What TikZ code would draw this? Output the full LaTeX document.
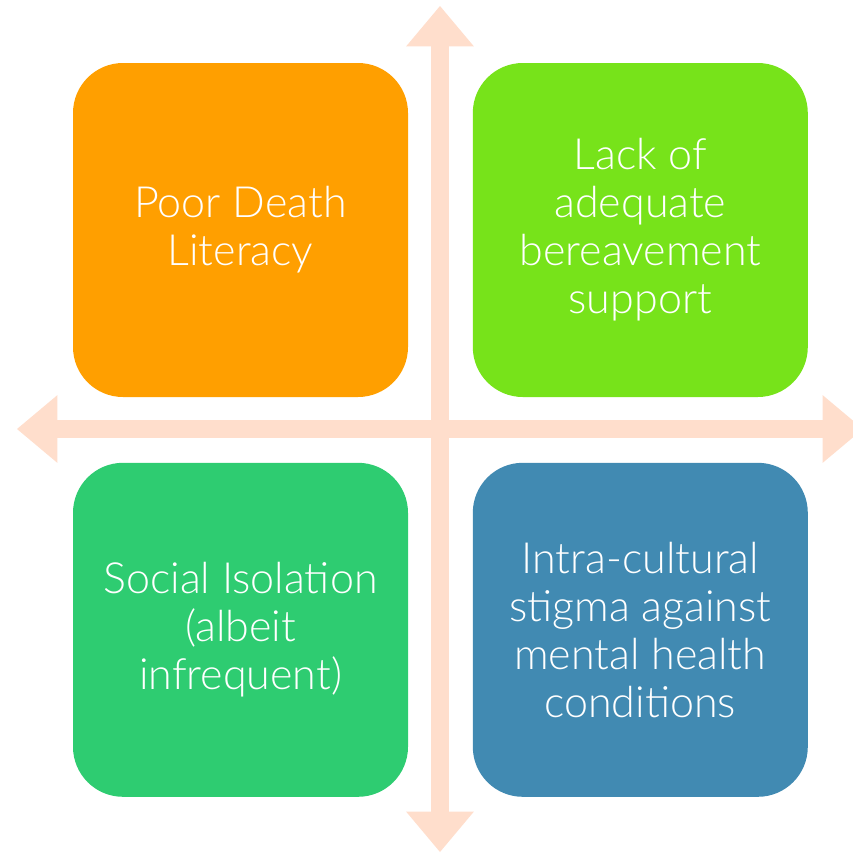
\documentclass[tikz,border=0pt]{standalone}
\usepackage{fontspec}
\setmainfont{Lato Light}
\usetikzlibrary{positioning,shapes.arrows}
\definecolor{axispeach}{RGB}{255,222,204}
\definecolor{deathorange}{RGB}{255,159,0}
\definecolor{supportgreen}{RGB}{119,227,26}
\definecolor{isolationgreen}{RGB}{46,204,113}
\definecolor{stigmablue}{RGB}{65,138,178}
\begin{document}
\begin{tikzpicture}[x=0.5pt,y=-0.5pt]
	\tikzstyle{quad box}=[rounded corners=25pt,minimum width=167.5pt,minimum height=167pt,inner sep=0pt,text=white,align=center,font=\fontsize{21.5}{24}\selectfont]
	\tikzstyle{axis arrow}=[double arrow,fill=axispeach,minimum height=423pt,minimum width=33.5pt,double arrow head extend=12.5pt,double arrow tip angle=80,inner xsep=0pt,inner ysep=4.25pt]
	\useasboundingbox(0,0)rectangle(853,853);
	\clip(0,0)rectangle(853,853);
	% axes
	\node(horizontal)[axis arrow]at(440,429){};
	\node(vertical)[axis arrow,rotate=90]at(440,429){};
	% quadrants
	\node(literacy)[quad box,fill=deathorange]at(240.5,230){Poor Death\\Literacy};
	\node(support)[quad box,fill=supportgreen,right=32pt of literacy]{Lack of\\adequate\\bereavement\\support};
	\node(isolation)[quad box,fill=isolationgreen,below=32.5pt of literacy]{Social Isolation\\(albeit\\infrequent)};
	\node(stigma)[quad box,fill=stigmablue,below=32.5pt of support]{Intra-cultural\\stigma against\\mental health\\conditions};
\end{tikzpicture}
\end{document}
